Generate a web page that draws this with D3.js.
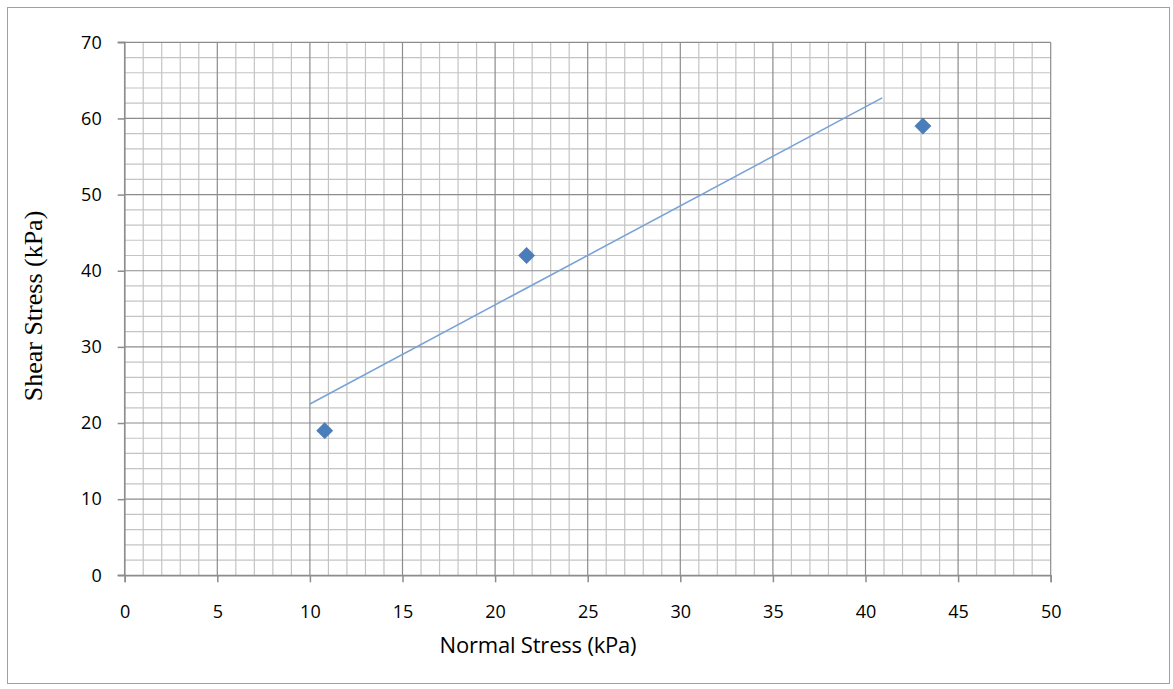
<!DOCTYPE html>
<html><head><meta charset="utf-8">
<script src="https://cdn.jsdelivr.net/npm/d3@7"></script>
<style>body{margin:0;background:#fff}svg{display:block}</style>
</head><body><svg id="c" width="1173" height="689"></svg>
<script>
const xTicks = [0,5,10,15,20,25,30,35,40,45,50];
const yTicks = [0,10,20,30,40,50,60,70];
const normalStress = [10.8, 21.7, 43.1];
const shearStress = [19, 42, 59];
const trendX = [10.0, 40.9];
const trendY = [22.5, 62.7];

const svg = d3.select("#c");
const L=124.7, R=1050.7, T=42.3, B=575.3;
const x = d3.scaleLinear().domain([0,50]).range([L,R]);
const y = d3.scaleLinear().domain([0,70]).range([B,T]);

svg.append("rect").attr("x",7.5).attr("y",7.5).attr("width",1162).attr("height",676)
  .attr("fill","#fff").attr("stroke","#a0a0a0").attr("stroke-width",1);

const g = svg.append("g");
// minor grid
d3.range(0,51,1).filter(v=>v%5!==0).forEach(v=>{
  g.append("line").attr("x1",x(v)).attr("x2",x(v)).attr("y1",T).attr("y2",B).attr("stroke","#c4c4c4").attr("stroke-width",1.2);
});
d3.range(0,71,2).filter(v=>v%10!==0).forEach(v=>{
  g.append("line").attr("x1",L).attr("x2",R).attr("y1",y(v)).attr("y2",y(v)).attr("stroke","#c4c4c4").attr("stroke-width",1.2);
});
// major grid
xTicks.forEach(v=>{
  g.append("line").attr("x1",x(v)).attr("x2",x(v)).attr("y1",T).attr("y2",B).attr("stroke","#8c8c8c").attr("stroke-width",1.2);
});
yTicks.forEach(v=>{
  g.append("line").attr("x1",L).attr("x2",R).attr("y1",y(v)).attr("y2",y(v)).attr("stroke","#8c8c8c").attr("stroke-width",1.2);
});

// axes
const xAxis = d3.axisBottom(x).tickValues(xTicks).tickSize(7).tickPadding(23);
const yAxis = d3.axisLeft(y).tickValues(yTicks).tickSize(7).tickPadding(16);
const xa = svg.append("g").attr("transform",`translate(0,${B})`).call(xAxis);
const ya = svg.append("g").attr("transform",`translate(${L},0)`).call(yAxis);
[xa,ya].forEach(a=>{
  a.select(".domain").attr("stroke","#8c8c8c").attr("stroke-width",1.5);
  a.selectAll(".tick line").attr("stroke","#8c8c8c").attr("stroke-width",1.5);
  a.selectAll("text").attr("font-family","'Open Sans', sans-serif").attr("font-size",18).attr("fill","#000");
});
ya.select(".domain").attr("d",`M-7,${B}H0V${T}H-7`);

// trendline
svg.append("line").attr("x1",x(trendX[0])).attr("y1",y(trendY[0])).attr("x2",x(trendX[1])).attr("y2",y(trendY[1]))
  .attr("stroke","#7aa3d6").attr("stroke-width",1.6);

// points
const sym = d3.symbol().type(d3.symbolDiamond2).size(170);
svg.selectAll(".pt").data(normalStress).enter().append("path")
  .attr("transform",(d,i)=>`translate(${x(d)},${y(shearStress[i])})`)
  .attr("d",sym).attr("fill","#4a7ebb").attr("stroke","#3f6fa8").attr("stroke-width",0.5);

svg.append("text").attr("x",538).attr("y",653).attr("text-anchor","middle")
  .attr("font-family","'Open Sans', sans-serif").attr("font-size",22).attr("fill","#000")
  .attr("letter-spacing",-0.2).text("Normal Stress (kPa)");
svg.append("text").attr("transform","translate(42,306) rotate(-90)").attr("text-anchor","middle")
  .attr("font-family","'Liberation Serif', serif").attr("font-size",26).attr("fill","#000")
  .text("Shear Stress (kPa)");
</script></body></html>
